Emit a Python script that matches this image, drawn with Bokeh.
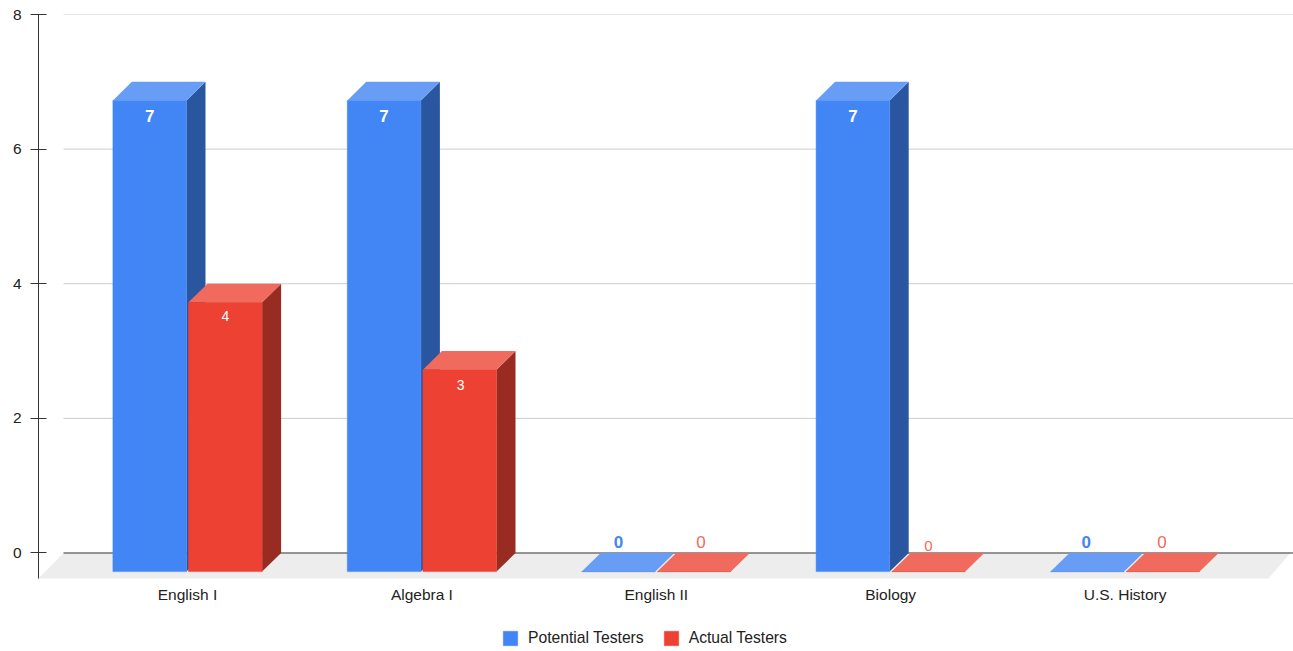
from bokeh.plotting import figure
from bokeh.models import ColumnDataSource, FixedTicker, Legend, LegendItem, Range1d
from bokeh.embed import file_html
from bokeh.resources import INLINE

categories = ["English I", "Algebra I", "English II", "Biology", "U.S. History"]
potential_testers = [7, 7, 0, 7, 0]
actual_testers = [4, 3, 0, 0, 0]
y_ticks = [0, 2, 4, 6, 8]

# Scale of the drawing: pixels per category and per unit of value
PX_X = 234.4
PX_Y = 67.31
FONT = "Liberation Sans"
DX = 19 / PX_X
DY = 18.6 / PX_Y
BAR = 73.6 / PX_X
GAP = 1 / PX_X
X0 = -149 / PX_X
X1 = X0 + 1255 / PX_X
FLOOR = -25.5 / PX_Y
Y0 = -95.5 / PX_Y

p = figure(width=1293, height=648, output_backend="svg", toolbar_location=None,
           x_range=Range1d(X0, X1), y_range=Range1d(Y0, y_ticks[-1]),
           frame_width=1255, frame_height=634,
           min_border_left=38, min_border_right=0, min_border_top=14, min_border_bottom=0,
           background_fill_color=None, border_fill_color=None, tools="")
p.outline_line_color = None
p.xgrid.visible = False
p.ygrid.visible = False

# Floor and rear wall lines
floor_left = X0
floor_right = X1 - 3 / PX_X
p.patch([floor_left, floor_left + 25 / PX_X, floor_right, floor_right - 22 / PX_X],
        [FLOOR, 0, 0, FLOOR], fill_color="#EDEDED", line_color=None)
wall_x = [X0 + 25 / PX_X] * len(y_ticks)
p.segment(wall_x, y_ticks, [X1] * len(y_ticks), y_ticks,
          line_color=["#333333" if t == 0 else "#CCCCCC" for t in y_ticks], line_width=1)


def draw_series(values, lefts, front, side, top):
    base = -DY
    fx = [[l, l + BAR, l + BAR, l] for l in lefts]
    fy = [[base, base, base + v, base + v] for v in values]
    sx = [[l + BAR, l + BAR + DX, l + BAR + DX, l + BAR] for l in lefts]
    sy = [[base, 0, v, base + v] for v in values]
    tx = [[l, l + DX, l + BAR + DX, l + BAR] for l in lefts]
    ty = [[base + v, v, v, base + v] for v in values]
    p.patches(sx, sy, fill_color=side, line_color=None)
    p.patches(tx, ty, fill_color=top, line_color=None)
    return p.patches(fx, fy, fill_color=front, line_color=front, line_width=0.5, line_join="round")


centers = list(range(len(categories)))
blue_l = [c - BAR - GAP for c in centers]
red_l = [c + GAP for c in centers]
r_blue = draw_series(potential_testers, blue_l, "#4285F4", "#2A56A0", "#689DF6")
r_red = draw_series(actual_testers, red_l, "#EC4133", "#982B22", "#F06B5E")

# Value labels
lab_x = [l + BAR / 2 for l in blue_l] + [l + BAR / 2 for l in red_l]
lab_y = [v - DY for v in potential_testers] + [v - DY for v in actual_testers]
lab_txt = [str(v) for v in potential_testers + actual_testers]
lab_col = ["#FFFFFF", "#FFFFFF", "#4285F4", "#FFFFFF", "#4285F4",
           "#FFFFFF", "#FFFFFF", "#F06B5E", "#F06B5E", "#F06B5E"]
lab_size = ["17px", "17px", "17px", "17px", "17px", "14px", "14px", "17px", "15px", "17px"]
lab_style = ["bold", "bold", "bold", "bold", "bold", "normal", "normal", "normal", "normal", "normal"]
lab_dx = [0, 0, 0, 0, -1, 0, 1, 7, 0, -1]
lab_dy = [16, 16, -30, 16, -30, 14, 15, -30, -26, -30]
p.text(x="x", y="y", text="t", source=ColumnDataSource(dict(
    x=lab_x, y=lab_y, t=lab_txt, c=lab_col, s=lab_size, w=lab_style, dx=lab_dx, dy=lab_dy)),
    text_color="c", text_font_size="s", text_font_style="w",
    text_font={"value": FONT}, text_align="center", text_baseline="middle",
    x_offset="dx", y_offset="dy")

# Axes
yax = p.yaxis[0]
yax.ticker = FixedTicker(ticks=y_ticks)
yax.bounds = (FLOOR, y_ticks[-1])
yax.major_tick_in = 8
yax.major_tick_out = 8
yax.minor_tick_line_color = None
yax.axis_line_color = "#333333"
yax.major_tick_line_color = "#333333"
yax.major_label_text_font = FONT
yax.major_label_text_font_size = "15.5px"
yax.major_label_text_color = "#222222"
yax.major_label_standoff = 9

xax = p.xaxis[0]
xax.fixed_location = FLOOR
xax.ticker = FixedTicker(ticks=centers)
xax.major_label_overrides = {c: n for c, n in zip(centers, categories)}
xax.axis_line_color = None
xax.major_tick_line_color = None
xax.minor_tick_line_color = None
xax.major_tick_in = 0
xax.major_tick_out = 0
xax.major_label_standoff = 8
xax.major_label_text_font = FONT
xax.major_label_text_font_size = "15.5px"
xax.major_label_text_color = "#222222"

# Legend
legend = Legend(items=[LegendItem(label="Potential Testers", renderers=[r_blue]),
                       LegendItem(label="Actual Testers", renderers=[r_red])],
                orientation="horizontal", location=(463, 1),
                glyph_width=18, glyph_height=18, label_standoff=9, spacing=18,
                padding=0, margin=0, border_line_color=None, background_fill_alpha=0,
                label_text_font=FONT, label_text_font_size="15.7px", label_text_color="#222222")
p.add_layout(legend, "center")

open("out.html", "w").write(file_html(p, INLINE))
